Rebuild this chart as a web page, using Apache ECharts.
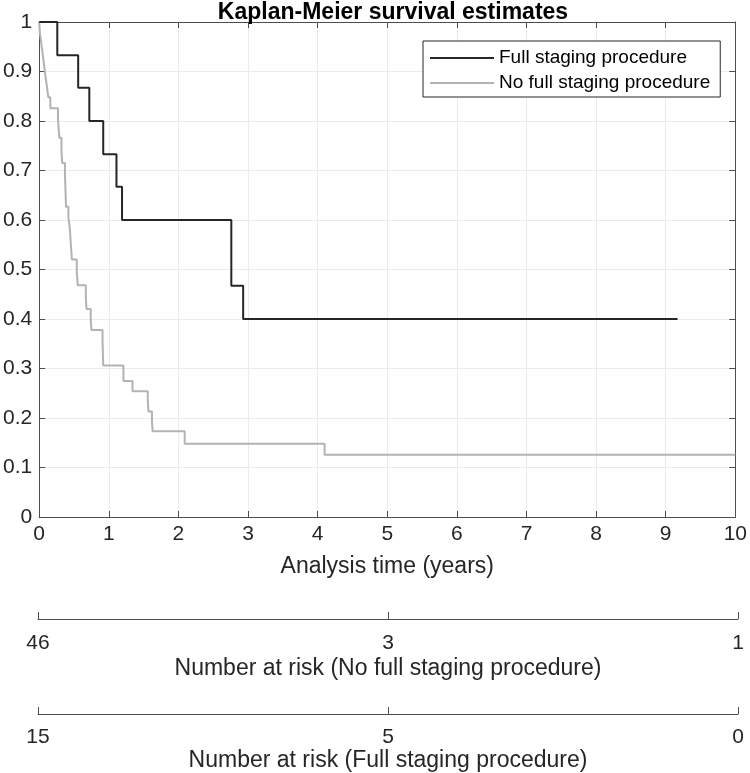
<!DOCTYPE html>
<html>
<head>
<meta charset="utf-8">
<script src="https://cdn.jsdelivr.net/npm/echarts@6/dist/echarts.min.js"></script>
<style>html,body{margin:0;padding:0;background:#fff;}#chart{width:750px;height:773px;}</style>
</head>
<body>
<div id="chart"></div>
<script>
// Full staging procedure: event times (years) and survival after each step
const fullTimes = [0, 0.26, 0.56, 0.72, 0.92, 1.11, 1.19, 2.76, 2.93, 9.17];
const fullSurv  = [1, 0.933, 0.867, 0.800, 0.733, 0.667, 0.600, 0.467, 0.400, 0.400];
// No full staging procedure
const noTimes = [0, 0.01, 0.03, 0.05, 0.07, 0.09, 0.11, 0.13, 0.16, 0.27, 0.28, 0.29, 0.32, 0.33, 0.37, 0.375, 0.38, 0.385, 0.42, 0.44, 0.45, 0.46, 0.47, 0.54, 0.555, 0.67, 0.68, 0.74, 0.75, 0.91, 0.915, 0.92, 1.21, 1.34, 1.56, 1.57, 1.62, 1.63, 2.09, 4.10, 10];
const noSurv  = [1, 0.978, 0.957, 0.935, 0.913, 0.891, 0.870, 0.848, 0.826, 0.804, 0.783, 0.766, 0.739, 0.715, 0.694, 0.672, 0.650, 0.627, 0.605, 0.583, 0.560, 0.540, 0.520, 0.494, 0.468, 0.443, 0.420, 0.398, 0.378, 0.354, 0.330, 0.306, 0.275, 0.254, 0.233, 0.213, 0.193, 0.173, 0.148, 0.126, 0.126];
// Number at risk tables
const riskTimes = [0, 5, 10];
const riskNo    = ['46', '3', '1'];
const riskFull  = ['15', '5', '0'];

const seriesNames = ['Full staging procedure', 'No full staging procedure'];
const FONT = 'Liberation Sans';
const TXT = '#262626';
const AX = '#4d4d4d';
const GRIDC = '#ebebeb';
const TICKFS = 21, LABELFS = 23, LEGFS = 19;

const zip = (a, b) => a.map((v, i) => [v, b[i]]);

const chart = echarts.init(document.getElementById('chart'), null, {renderer: 'canvas'});

const mainX = {
  type: 'value', gridIndex: 0, min: 0, max: 10, interval: 1,
  axisLine: {show: true, onZero: false, lineStyle: {color: AX, width: 1}},
  axisTick: {show: true, inside: true, length: 6, lineStyle: {color: AX}},
  splitLine: {show: true, lineStyle: {color: GRIDC, width: 1}},
  axisLabel: {show: true, fontSize: TICKFS, color: TXT, fontFamily: FONT, margin: 7},
  name: 'Analysis time (years)', nameLocation: 'middle', nameGap: 38,
  nameTextStyle: {fontSize: LABELFS, color: TXT, fontFamily: FONT}
};
const topX = {
  type: 'value', gridIndex: 0, position: 'top', min: 0, max: 10, interval: 1,
  axisLine: {show: true, onZero: false, lineStyle: {color: AX, width: 1}},
  axisTick: {show: true, inside: true, length: 6, lineStyle: {color: AX}},
  splitLine: {show: false}, axisLabel: {show: false}
};
function riskAxis(gi, labels, name, margin, gap) {
  return {
    type: 'value', gridIndex: gi, min: 0, max: 10, interval: 5,
    axisLine: {show: true, onZero: false, lineStyle: {color: AX, width: 1}},
    axisTick: {show: true, inside: true, length: 7, lineStyle: {color: AX}},
    splitLine: {show: false},
    axisLabel: {show: true, fontSize: TICKFS, color: TXT, fontFamily: FONT, margin: margin,
      showMinLabel: true, showMaxLabel: true,
      formatter: v => { const i = riskTimes.indexOf(v); return i >= 0 ? labels[i] : ''; }},
    name: name, nameLocation: 'middle', nameGap: gap,
    nameTextStyle: {fontSize: LABELFS, color: TXT, fontFamily: FONT}
  };
}
const hiddenY = gi => ({type: 'value', gridIndex: gi, min: 0, max: 1, show: false});

chart.setOption({
  animation: false,
  backgroundColor: '#fff',
  title: {
    text: 'Kaplan-Meier survival estimates', left: 388, top: -4, textAlign: 'center',
    textStyle: {fontSize: LABELFS, fontWeight: 'bold', color: '#000', fontFamily: FONT}
  },
  legend: {
    data: seriesNames, orient: 'vertical', left: 423, top: 41,
    backgroundColor: '#fff', borderColor: TXT, borderWidth: 1,
    padding: [7, 10, 4, 7], itemWidth: 64, itemHeight: 2, itemGap: 5,
    textStyle: {fontSize: LEGFS, color: '#000', fontFamily: FONT, lineHeight: 20},
    icon: 'rect'
  },
  grid: [
    {left: 38, right: 12, top: 22, bottom: 256, containLabel: false},
    {left: 38, right: 12, top: 600, height: 19},
    {left: 38, right: 12, top: 698, height: 19}
  ],
  xAxis: [mainX, topX,
    riskAxis(1, riskNo, 'Number at risk (No full staging procedure)', 14, 38),
    riskAxis(2, riskFull, 'Number at risk (Full staging procedure)', 13, 33)],
  yAxis: [
    {
      type: 'value', gridIndex: 0, min: 0, max: 1, interval: 0.1,
      axisLine: {show: true, onZero: false, lineStyle: {color: AX, width: 1}},
      axisTick: {show: true, inside: true, length: 6, lineStyle: {color: AX}},
      splitLine: {show: true, lineStyle: {color: GRIDC, width: 1}},
      axisLabel: {fontSize: TICKFS, color: TXT, fontFamily: FONT, margin: 7}
    },
    {
      type: 'value', gridIndex: 0, position: 'right', min: 0, max: 1, interval: 0.1,
      axisLine: {show: true, onZero: false, lineStyle: {color: AX, width: 1}},
      axisTick: {show: true, inside: true, length: 6, lineStyle: {color: AX}},
      splitLine: {show: false}, axisLabel: {show: false}
    },
    hiddenY(1), hiddenY(2)
  ],
  series: [
    {
      name: seriesNames[0], type: 'line', step: 'end', xAxisIndex: 0, yAxisIndex: 0,
      data: zip(fullTimes, fullSurv), symbol: 'none', z: 3,
      lineStyle: {color: '#262626', width: 2}, itemStyle: {color: '#262626'}
    },
    {
      name: seriesNames[1], type: 'line', step: 'end', xAxisIndex: 0, yAxisIndex: 0,
      data: zip(noTimes, noSurv), symbol: 'none', z: 2,
      lineStyle: {color: '#b3b3b3', width: 2}, itemStyle: {color: '#b3b3b3'}
    }
  ]
});
</script>
</body>
</html>
